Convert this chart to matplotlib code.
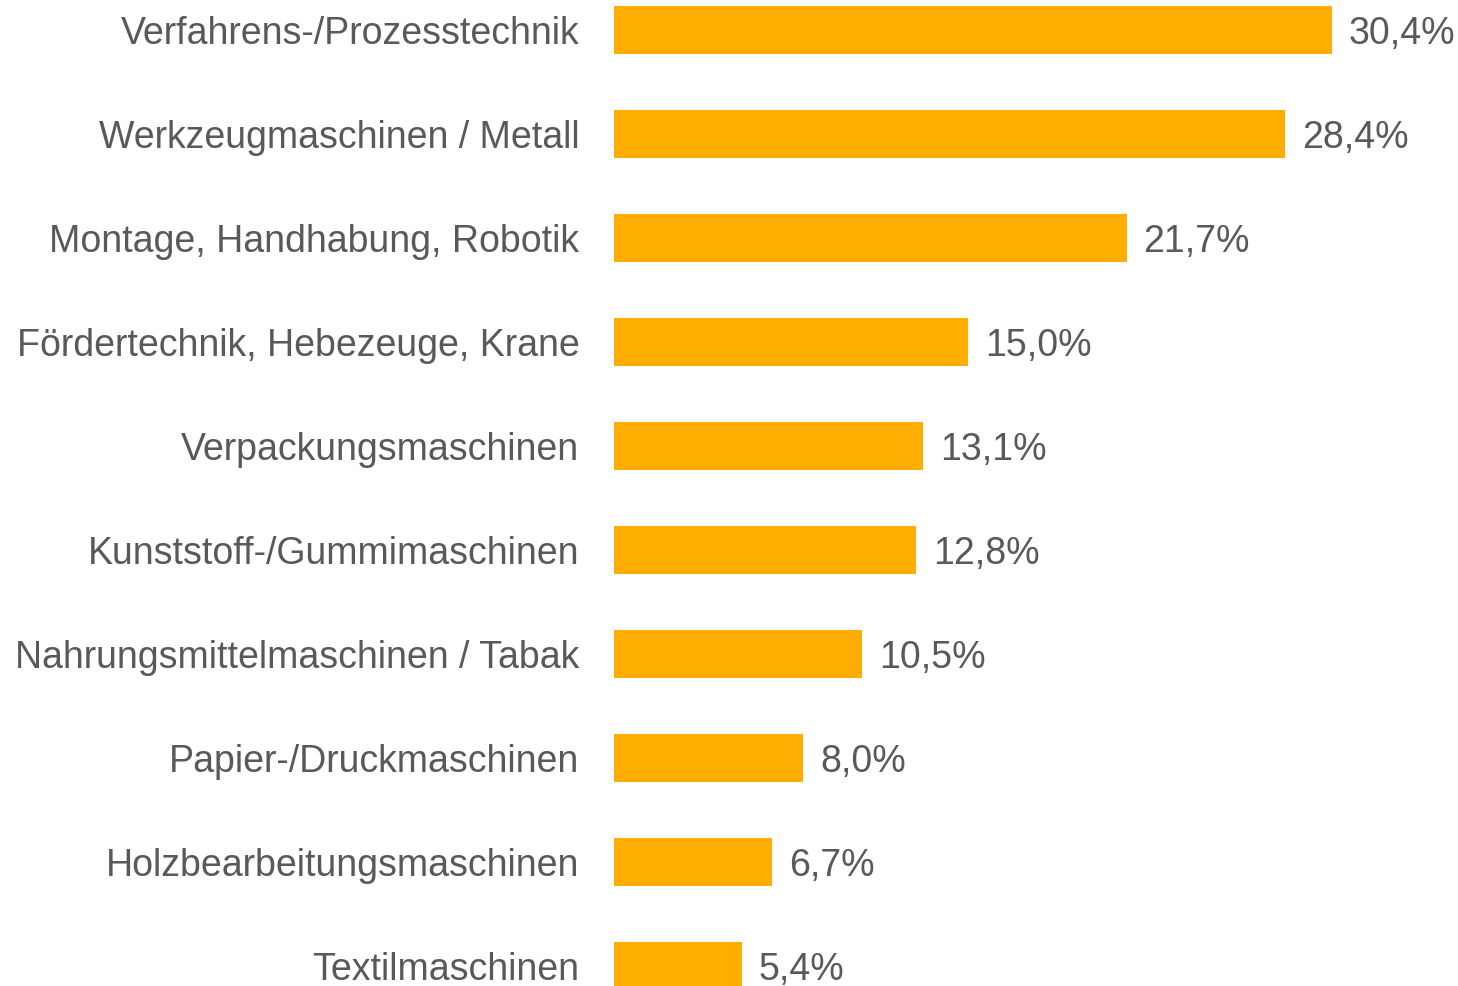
import matplotlib
matplotlib.use('Agg')
import matplotlib.pyplot as plt

categories = ['Verfahrens-/Prozesstechnik', 'Werkzeugmaschinen / Metall',
              'Montage, Handhabung, Robotik', 'Fördertechnik, Hebezeuge, Krane',
              'Verpackungsmaschinen', 'Kunststoff-/Gummimaschinen',
              'Nahrungsmittelmaschinen / Tabak', 'Papier-/Druckmaschinen',
              'Holzbearbeitungsmaschinen', 'Textilmaschinen']
values = [30.4, 28.4, 21.7, 15.0, 13.1, 12.8, 10.5, 8.0, 6.7, 5.4]

bar_color = '#FFAD00'
text_color = '#595959'

plt.rcParams['font.family'] = ['Liberation Sans', 'DejaVu Sans']

fig = plt.figure(figsize=(14.58, 9.86), dpi=100)
ax = fig.add_axes([614 / 1458, 0, 1 - 614 / 1458, 1])

pos = list(range(len(categories)))
ax.barh(pos, values, height=0.46, color=bar_color)

# pixel scale: ~23.62 px per percent
ax.set_xlim(0, (1458 - 614) / 23.62)
ax.set_ylim((986 - 30) / 104, -30 / 104)

for p, v in zip(pos, values):
    ax.text(v + 0.72, p + 0.04, f'{v:.1f}%'.replace('.', ','), va='center', ha='left',
            fontsize=27, color=text_color)

ax.set_yticks(pos)
ax.set_yticklabels(categories, fontsize=27, color=text_color)
ax.tick_params(axis='y', length=0, pad=25)
ax.set_xticks([])
for s in ax.spines.values():
    s.set_visible(False)

fig.savefig('out.png', dpi=100)
